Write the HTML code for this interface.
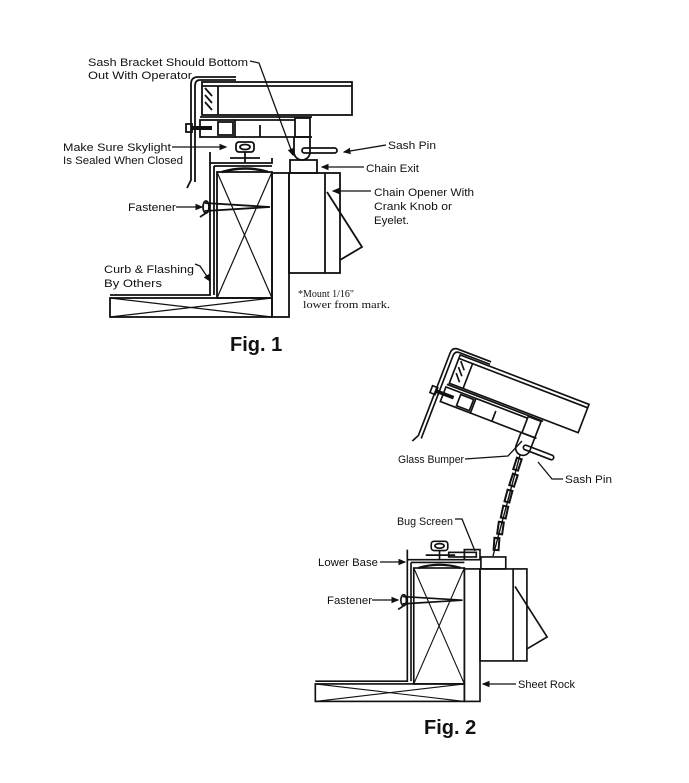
<!DOCTYPE html>
<html><head><meta charset="utf-8"><style>
html,body{margin:0;padding:0;background:#fff;}
svg{display:block}
.t{font-family:"Liberation Sans Narrow","Liberation Sans",sans-serif;font-size:11px;fill:#111;}
.s{font-family:"Liberation Serif",serif;font-size:11px;fill:#111;}
.f{font-family:"Liberation Sans",sans-serif;font-size:20px;font-weight:bold;fill:#111;}
</style></head><body>
<svg width="689" height="783" viewBox="0 0 689 783" xmlns="http://www.w3.org/2000/svg">
<defs>
<marker id="ah" markerWidth="6" markerHeight="6" refX="5" refY="3" orient="auto"><path d="M0,0.5 L6,3 L0,5.5z" fill="#111"/></marker>
<g id="base" fill="none" stroke="#111" stroke-width="1.8">
  <rect x="110" y="298" width="162" height="19"/>
  <line x1="110" y1="298" x2="272" y2="317" stroke-width="1.2"/><line x1="110" y1="317" x2="272" y2="298" stroke-width="1.2"/>
  <rect x="272" y="173" width="17" height="144"/>
  <rect x="217" y="172" width="55" height="126"/>
  <line x1="217" y1="172" x2="272" y2="298" stroke-width="1.2"/><line x1="272" y1="172" x2="217" y2="298" stroke-width="1.2"/>
  <polyline points="210,152 210,295 110,295"/>
  <polyline points="214,166 214,295"/>
  <polyline points="210,163 272,163 272,158"/>
  <line x1="214" y1="166" x2="272" y2="166"/>
  <path d="M222,172 Q245,165 268,172" stroke-width="2.5"/>
  <rect x="290" y="160" width="27" height="13"/>
  <rect x="289" y="173" width="51" height="100"/>
  <line x1="325" y1="173" x2="325" y2="273"/>
  <polyline points="327,192 362,247 340,260"/>
  <polyline points="205,211 270,207 205,203"/>
  <ellipse cx="206" cy="207" rx="3" ry="6"/>
  <line x1="200" y1="217" x2="209" y2="211"/>
</g>
<g id="sash" fill="none" stroke="#111" stroke-width="1.8">
  <rect x="202" y="82" width="150" height="33"/>
  <line x1="202" y1="86" x2="352" y2="86"/>
  <line x1="218" y1="86" x2="218" y2="115"/>
  <line x1="205" y1="88" x2="212" y2="96"/><line x1="205" y1="95" x2="212" y2="103"/><line x1="205" y1="102" x2="212" y2="110"/>
  <path d="M236,77 L198,77 Q191,77 191,84 L191,180 L187,188"/>
  <path d="M236,80 L200,80 Q195,80 195,86 L195,182"/>
  <rect x="200" y="120" width="35" height="17"/>
  <rect x="218" y="122" width="15" height="13"/>
  <line x1="200" y1="117" x2="312" y2="117"/>
  <line x1="235" y1="137" x2="312" y2="137"/>
  <line x1="235" y1="120" x2="295" y2="120"/>
  <line x1="260" y1="125" x2="260" y2="137"/>
  <rect x="186" y="124" width="6" height="8"/><line x1="192" y1="128" x2="212" y2="128" stroke-width="4"/>
  <rect x="295" y="118" width="15" height="19"/>
  <path d="M294,137 L294,152 A8,8 0 0 0 310,152 L310,137"/>
  <rect x="302" y="148" width="35" height="5" rx="2.5"/>
</g>
</defs>

<use href="#base"/>
<use href="#sash"/>
<g fill="none" stroke="#111" stroke-width="1.8">
  <rect x="236" y="142" width="18" height="10" rx="3"/>
  <ellipse cx="245" cy="147" rx="5" ry="2.5"/>
  <line x1="245" y1="152" x2="245" y2="163"/>
  <line x1="230" y1="158" x2="260" y2="158"/>
</g>
<g stroke="#111" stroke-width="1.3" fill="none">
  <polyline points="250,61 259,63 293,155" marker-end="url(#ah)"/>
  <line x1="172" y1="147" x2="226" y2="147" marker-end="url(#ah)"/>
  <line x1="386" y1="145" x2="344" y2="152" marker-end="url(#ah)"/>
  <line x1="364" y1="167" x2="322" y2="167" marker-end="url(#ah)"/>
  <line x1="371" y1="191" x2="333" y2="191" marker-end="url(#ah)"/>
  <line x1="176" y1="207" x2="202" y2="207" marker-end="url(#ah)"/>
  <polyline points="195,264 200,266 210,281" marker-end="url(#ah)"/>
</g>
<text class="t" x="88" y="66" textLength="160" lengthAdjust="spacingAndGlyphs">Sash Bracket Should Bottom</text>
<text class="t" x="88" y="79" textLength="104" lengthAdjust="spacingAndGlyphs">Out With Operator</text>
<text class="t" x="63" y="151" textLength="108" lengthAdjust="spacingAndGlyphs">Make Sure Skylight</text>
<text class="t" x="63" y="164" textLength="120" lengthAdjust="spacingAndGlyphs">Is Sealed When Closed</text>
<text class="t" x="388" y="149" textLength="48" lengthAdjust="spacingAndGlyphs">Sash Pin</text>
<text class="t" x="366" y="172" textLength="53" lengthAdjust="spacingAndGlyphs">Chain Exit</text>
<text class="t" x="374" y="196" textLength="100" lengthAdjust="spacingAndGlyphs">Chain Opener With</text>
<text class="t" x="374" y="210" textLength="78" lengthAdjust="spacingAndGlyphs">Crank Knob or</text>
<text class="t" x="374" y="224" textLength="35" lengthAdjust="spacingAndGlyphs">Eyelet.</text>
<text class="t" x="128" y="211" textLength="48" lengthAdjust="spacingAndGlyphs">Fastener</text>
<text class="t" x="104" y="273" textLength="90" lengthAdjust="spacingAndGlyphs">Curb &amp; Flashing</text>
<text class="t" x="104" y="287" textLength="58" lengthAdjust="spacingAndGlyphs">By Others</text>
<text class="s" x="298" y="297" textLength="56" lengthAdjust="spacingAndGlyphs">*Mount 1/16"</text>
<text class="s" x="303" y="308" textLength="87" lengthAdjust="spacingAndGlyphs">lower from mark.</text>
<text class="f" x="230" y="351">Fig. 1</text>

<g transform="translate(480,568) scale(0.92) translate(-289,-172)">
  <use href="#base"/>
  <g fill="none" stroke="#111" stroke-width="1.8">
    <rect x="236" y="143" width="18" height="10" rx="3"/>
    <ellipse cx="245" cy="148" rx="5" ry="2.5"/>
    <line x1="245" y1="153" x2="245" y2="163"/>
    <line x1="230" y1="158" x2="262" y2="158"/>
    <rect x="255" y="155" width="30" height="5"/>
    <rect x="272" y="152" width="17" height="11"/>
  </g>
</g>
<g transform="translate(523,448) rotate(21) scale(0.92) translate(-302,-152)">
  <use href="#sash"/>
</g>
<g fill="none" stroke="#111" stroke-width="2">
  <rect x="515" y="458" width="5" height="12" transform="rotate(18 517 464)"/>
  <rect x="511" y="474" width="5" height="12" transform="rotate(18 513 480)"/>
  <rect x="506" y="490" width="5" height="12" transform="rotate(15 508 496)"/>
  <rect x="502" y="506" width="5" height="12" transform="rotate(12 504 512)"/>
  <rect x="498" y="522" width="5" height="12" transform="rotate(8 500 528)"/>
  <rect x="494" y="538" width="5" height="12" transform="rotate(4 496 544)"/>
  <line x1="520" y1="455" x2="493" y2="556" stroke-width="1.4"/>
</g>
<g stroke="#111" stroke-width="1.3" fill="none">
  <polyline points="465,459 508,456 522,441"/>
  <polyline points="563,479 552,479 538,462"/>
  <polyline points="455,519 462,519 475,551"/>
  <line x1="380" y1="562" x2="405" y2="562" marker-end="url(#ah)"/>
  <line x1="372" y1="600" x2="398" y2="600" marker-end="url(#ah)"/>
  <line x1="516" y1="684" x2="483" y2="684" marker-end="url(#ah)"/>
</g>
<text class="t" x="398" y="463" textLength="66" lengthAdjust="spacingAndGlyphs">Glass Bumper</text>
<text class="t" x="565" y="483" textLength="47" lengthAdjust="spacingAndGlyphs">Sash Pin</text>
<text class="t" x="397" y="525" textLength="56" lengthAdjust="spacingAndGlyphs">Bug Screen</text>
<text class="t" x="318" y="566" textLength="60" lengthAdjust="spacingAndGlyphs">Lower Base</text>
<text class="t" x="327" y="604" textLength="45" lengthAdjust="spacingAndGlyphs">Fastener</text>
<text class="t" x="518" y="688" textLength="57" lengthAdjust="spacingAndGlyphs">Sheet Rock</text>
<text class="f" x="424" y="734">Fig. 2</text>
</svg>
</body></html>
